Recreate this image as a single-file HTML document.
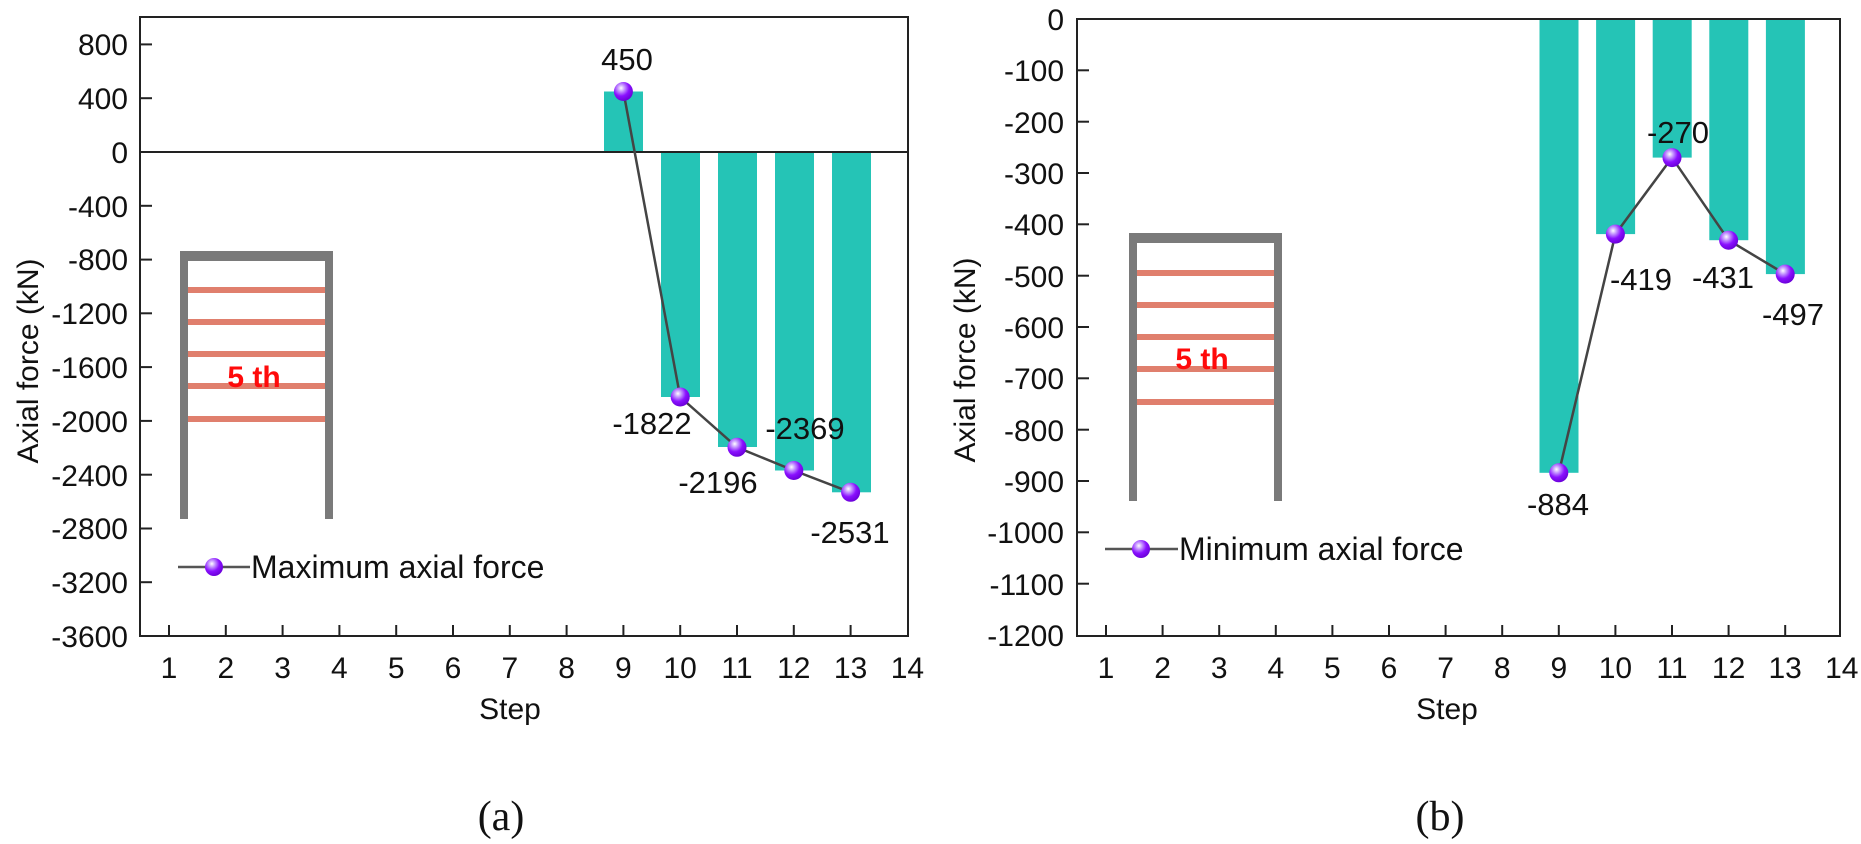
<!DOCTYPE html>
<html><head><meta charset="utf-8"><style>
html,body{margin:0;padding:0;background:#fff;}
svg{display:block;}
text{font-family:"Liberation Sans",Arial,sans-serif;fill:#111;}
</style></head><body>
<svg width="1861" height="844" viewBox="0 0 1861 844" xmlns="http://www.w3.org/2000/svg">
<defs>
<radialGradient id="ball" cx="0.38" cy="0.32" r="0.7">
<stop offset="0" stop-color="#ffffff"/>
<stop offset="0.25" stop-color="#c79bff"/>
<stop offset="0.6" stop-color="#8a10ff"/>
<stop offset="1" stop-color="#6a00d8"/>
</radialGradient>
</defs>

<g fill="#25c4b6">
<rect x="604" y="91.5" width="39" height="60.5"/>
<rect x="661" y="152" width="39" height="245"/>
<rect x="718" y="152" width="39" height="295"/>
<rect x="775" y="152" width="39" height="318.5"/>
<rect x="832" y="152" width="39" height="340.3"/>
</g>
<line x1="140" y1="152" x2="908" y2="152" stroke="#222" stroke-width="2"/>
<rect x="140" y="17" width="768" height="619" fill="none" stroke="#222" stroke-width="2"/>
<g stroke="#222" stroke-width="2">
<line x1="140" y1="44.4" x2="152" y2="44.4"/><line x1="140" y1="98.2" x2="152" y2="98.2"/>
<line x1="140" y1="152" x2="152" y2="152"/><line x1="140" y1="205.8" x2="152" y2="205.8"/>
<line x1="140" y1="259.6" x2="152" y2="259.6"/><line x1="140" y1="313.3" x2="152" y2="313.3"/>
<line x1="140" y1="367.1" x2="152" y2="367.1"/><line x1="140" y1="420.9" x2="152" y2="420.9"/>
<line x1="140" y1="474.7" x2="152" y2="474.7"/><line x1="140" y1="528.5" x2="152" y2="528.5"/>
<line x1="140" y1="582.2" x2="152" y2="582.2"/>
</g>
<g font-size="30" text-anchor="end">
<text x="128" y="55">800</text><text x="128" y="109">400</text><text x="128" y="163">0</text>
<text x="128" y="217">-400</text><text x="128" y="270">-800</text><text x="128" y="324">-1200</text>
<text x="128" y="378">-1600</text><text x="128" y="432">-2000</text><text x="128" y="486">-2400</text>
<text x="128" y="539">-2800</text><text x="128" y="593">-3200</text><text x="128" y="647">-3600</text>
</g>
<g stroke="#222" stroke-width="2">
<line x1="169" y1="636" x2="169" y2="625"/><line x1="225.8" y1="636" x2="225.8" y2="625"/>
<line x1="282.6" y1="636" x2="282.6" y2="625"/><line x1="339.4" y1="636" x2="339.4" y2="625"/>
<line x1="396.2" y1="636" x2="396.2" y2="625"/><line x1="453" y1="636" x2="453" y2="625"/>
<line x1="509.8" y1="636" x2="509.8" y2="625"/><line x1="566.6" y1="636" x2="566.6" y2="625"/>
<line x1="623.4" y1="636" x2="623.4" y2="625"/><line x1="680.2" y1="636" x2="680.2" y2="625"/>
<line x1="737" y1="636" x2="737" y2="625"/><line x1="793.8" y1="636" x2="793.8" y2="625"/>
<line x1="850.6" y1="636" x2="850.6" y2="625"/>
</g>
<g font-size="30" text-anchor="middle">
<text x="169" y="678">1</text><text x="225.8" y="678">2</text><text x="282.6" y="678">3</text>
<text x="339.4" y="678">4</text><text x="396.2" y="678">5</text><text x="453" y="678">6</text>
<text x="509.8" y="678">7</text><text x="566.6" y="678">8</text><text x="623.4" y="678">9</text>
<text x="680.2" y="678">10</text><text x="737" y="678">11</text><text x="793.8" y="678">12</text>
<text x="850.6" y="678">13</text><text x="907.4" y="678">14</text>
</g>
<text x="510" y="719" font-size="30" text-anchor="middle">Step</text>
<text transform="translate(38,361) rotate(-90)" font-size="30" text-anchor="middle">Axial force (kN)</text>
<text x="501" y="830" font-size="42" text-anchor="middle" style="font-family:'Liberation Serif',serif">(a)</text>

<g>
<rect x="180" y="251" width="153" height="10" fill="#7a7a7a"/>
<rect x="180" y="251" width="8" height="268" fill="#7a7a7a"/>
<rect x="325" y="251" width="8" height="268" fill="#7a7a7a"/>
<g fill="#e07f6d">
<rect x="188" y="287" width="137" height="6"/><rect x="188" y="319" width="137" height="6"/>
<rect x="188" y="351" width="137" height="6"/><rect x="188" y="383" width="137" height="6"/>
<rect x="188" y="416" width="137" height="6"/>
</g>
<text x="254" y="387" font-size="30" font-weight="bold" text-anchor="middle" style="fill:#ff0a0a">5 th</text>
</g>
<line x1="178" y1="567" x2="250" y2="567" stroke="#555" stroke-width="2.5"/>
<circle cx="214" cy="567" r="9" fill="url(#ball)"/>
<text x="251" y="578" font-size="32">Maximum axial force</text>

<polyline points="623.4,91.5 680.2,397 737,447.3 793.8,470.5 850.6,492.3" fill="none" stroke="#444" stroke-width="2.5"/>
<g fill="url(#ball)">
<circle cx="623.4" cy="91.5" r="9.5"/><circle cx="680.2" cy="397" r="9.5"/>
<circle cx="737" cy="447.3" r="9.5"/><circle cx="793.8" cy="470.5" r="9.5"/>
<circle cx="850.6" cy="492.3" r="9.5"/>
</g>
<g font-size="31" text-anchor="middle">
<text x="627" y="70">450</text>
<text x="652" y="434">-1822</text>
<text x="718" y="493">-2196</text>
<text x="805" y="439">-2369</text>
<text x="850" y="543">-2531</text>
</g>

<g fill="#25c4b6">
<rect x="1539.5" y="19" width="39" height="453.8"/>
<rect x="1596.1" y="19" width="39" height="215.1"/>
<rect x="1652.7" y="19" width="39" height="138.6"/>
<rect x="1709.3" y="19" width="39" height="221.2"/>
<rect x="1765.9" y="19" width="39" height="255.1"/>
</g>
<rect x="1077" y="19" width="763" height="617" fill="none" stroke="#222" stroke-width="2"/>
<g stroke="#222" stroke-width="2">
<line x1="1077" y1="70.3" x2="1089" y2="70.3"/><line x1="1077" y1="121.7" x2="1089" y2="121.7"/>
<line x1="1077" y1="173" x2="1089" y2="173"/><line x1="1077" y1="224.3" x2="1089" y2="224.3"/>
<line x1="1077" y1="275.7" x2="1089" y2="275.7"/><line x1="1077" y1="327" x2="1089" y2="327"/>
<line x1="1077" y1="378.3" x2="1089" y2="378.3"/><line x1="1077" y1="429.7" x2="1089" y2="429.7"/>
<line x1="1077" y1="481" x2="1089" y2="481"/><line x1="1077" y1="532.3" x2="1089" y2="532.3"/>
<line x1="1077" y1="583.7" x2="1089" y2="583.7"/>
</g>
<g font-size="30" text-anchor="end">
<text x="1064" y="30">0</text><text x="1064" y="81">-100</text><text x="1064" y="133">-200</text>
<text x="1064" y="184">-300</text><text x="1064" y="235">-400</text><text x="1064" y="287">-500</text>
<text x="1064" y="338">-600</text><text x="1064" y="389">-700</text><text x="1064" y="441">-800</text>
<text x="1064" y="492">-900</text><text x="1064" y="543">-1000</text><text x="1064" y="595">-1100</text>
<text x="1064" y="646">-1200</text>
</g>
<g stroke="#222" stroke-width="2">
<line x1="1106" y1="636" x2="1106" y2="625"/><line x1="1162.6" y1="636" x2="1162.6" y2="625"/>
<line x1="1219.2" y1="636" x2="1219.2" y2="625"/><line x1="1275.8" y1="636" x2="1275.8" y2="625"/>
<line x1="1332.4" y1="636" x2="1332.4" y2="625"/><line x1="1389" y1="636" x2="1389" y2="625"/>
<line x1="1445.6" y1="636" x2="1445.6" y2="625"/><line x1="1502.2" y1="636" x2="1502.2" y2="625"/>
<line x1="1558.8" y1="636" x2="1558.8" y2="625"/><line x1="1615.4" y1="636" x2="1615.4" y2="625"/>
<line x1="1672" y1="636" x2="1672" y2="625"/><line x1="1728.6" y1="636" x2="1728.6" y2="625"/>
<line x1="1785.2" y1="636" x2="1785.2" y2="625"/>
</g>
<g font-size="30" text-anchor="middle">
<text x="1106" y="678">1</text><text x="1162.6" y="678">2</text><text x="1219.2" y="678">3</text>
<text x="1275.8" y="678">4</text><text x="1332.4" y="678">5</text><text x="1389" y="678">6</text>
<text x="1445.6" y="678">7</text><text x="1502.2" y="678">8</text><text x="1558.8" y="678">9</text>
<text x="1615.4" y="678">10</text><text x="1672" y="678">11</text><text x="1728.6" y="678">12</text>
<text x="1785.2" y="678">13</text><text x="1841.8" y="678">14</text>
</g>
<text x="1447" y="719" font-size="30" text-anchor="middle">Step</text>
<text transform="translate(975,360) rotate(-90)" font-size="30" text-anchor="middle">Axial force (kN)</text>
<text x="1440" y="830" font-size="42" text-anchor="middle" style="font-family:'Liberation Serif',serif">(b)</text>

<g>
<rect x="1129" y="233" width="153" height="10" fill="#7a7a7a"/>
<rect x="1129" y="233" width="8" height="268" fill="#7a7a7a"/>
<rect x="1274" y="233" width="8" height="268" fill="#7a7a7a"/>
<g fill="#e07f6d">
<rect x="1137" y="270" width="137" height="6"/><rect x="1137" y="302" width="137" height="6"/>
<rect x="1137" y="334" width="137" height="6"/><rect x="1137" y="366" width="137" height="6"/>
<rect x="1137" y="399" width="137" height="6"/>
</g>
<text x="1202" y="369" font-size="30" font-weight="bold" text-anchor="middle" style="fill:#ff0a0a">5 th</text>
</g>
<line x1="1105" y1="549" x2="1178" y2="549" stroke="#555" stroke-width="2.5"/>
<circle cx="1141" cy="549" r="9" fill="url(#ball)"/>
<text x="1179" y="560" font-size="32">Minimum axial force</text>

<polyline points="1558.8,472.8 1615.4,234.1 1672,157.6 1728.6,240.2 1785.2,274.1" fill="none" stroke="#444" stroke-width="2.5"/>
<g fill="url(#ball)">
<circle cx="1558.8" cy="472.8" r="9.5"/><circle cx="1615.4" cy="234.1" r="9.5"/>
<circle cx="1672" cy="157.6" r="9.5"/><circle cx="1728.6" cy="240.2" r="9.5"/>
<circle cx="1785.2" cy="274.1" r="9.5"/>
</g>
<g font-size="31" text-anchor="middle">
<text x="1558" y="515">-884</text>
<text x="1641" y="290">-419</text>
<text x="1678" y="143">-270</text>
<text x="1723" y="288">-431</text>
<text x="1793" y="325">-497</text>
</g>
</svg>
</body></html>
